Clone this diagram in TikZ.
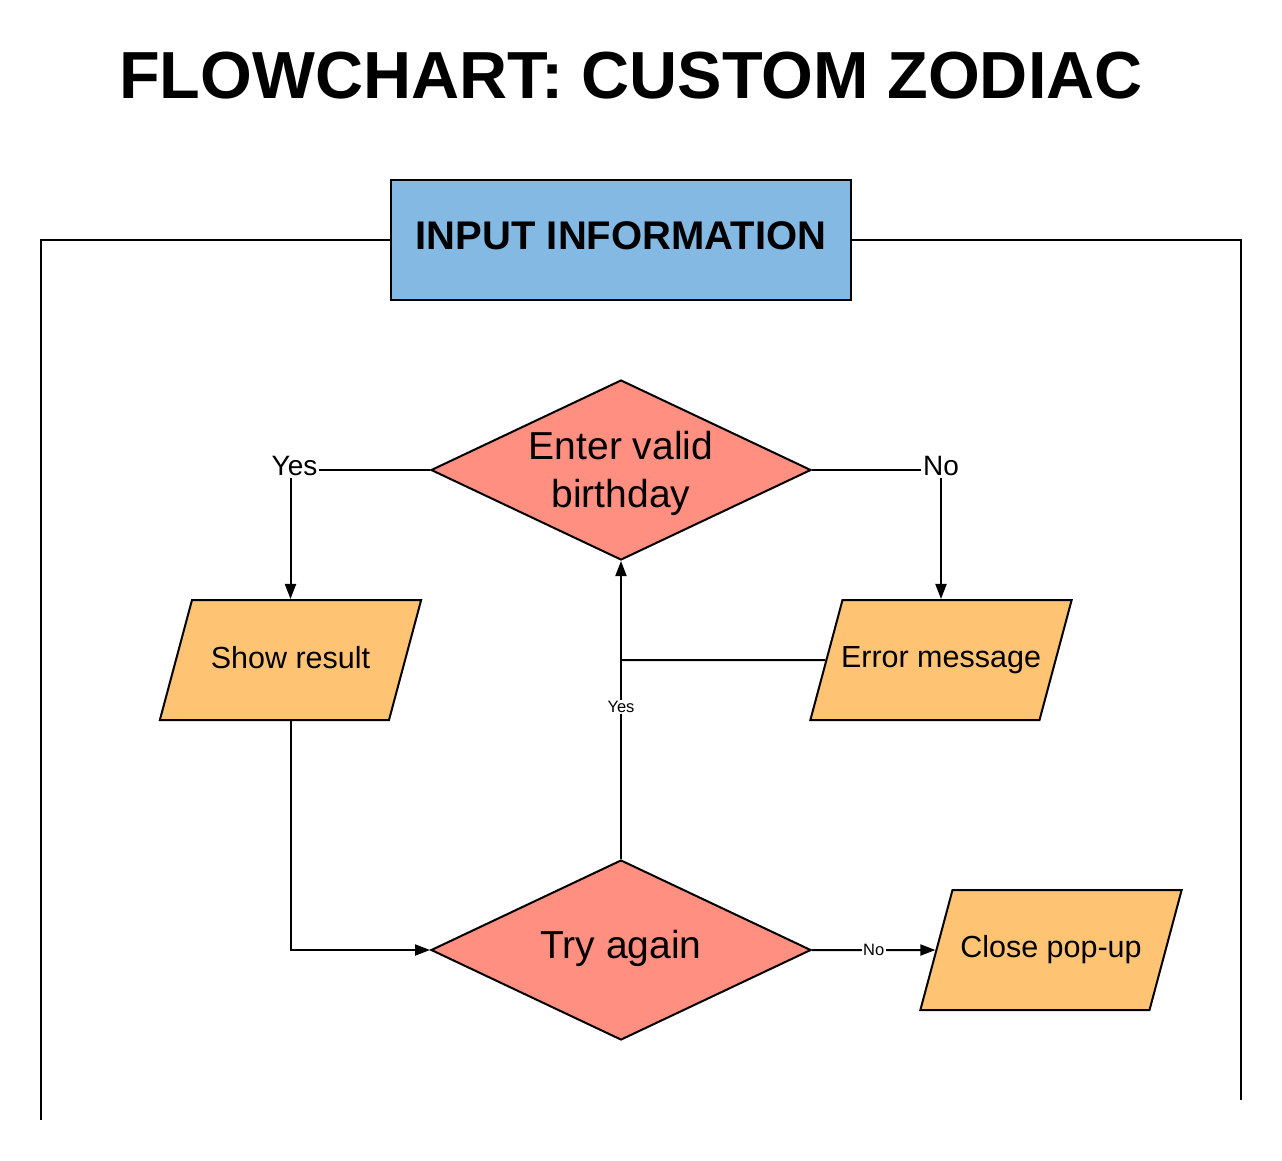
\documentclass[tikz,border=0pt]{standalone}
\usepackage{fontspec}
\setmainfont{Liberation Sans}
\usetikzlibrary{shapes.geometric,arrows.meta}
\definecolor{inblue}{RGB}{131,185,227}
\definecolor{salmon}{RGB}{255,143,128}
\definecolor{paraor}{RGB}{255,195,116}
\newcommand\paratext[1]{\parbox[c][120pt][c]{197pt}{\centering\makebox[0pt]{\raisebox{6pt}{#1}}}}
\begin{document}
\begin{tikzpicture}[x=1pt,y=-1pt,
 box/.style={draw, line width=2pt, fill=inblue, minimum width=460pt, minimum height=120pt, inner sep=0pt, font=\fontsize{40}{48}\selectfont\bfseries},
 dia/.style={shape=diamond, draw, line width=2pt, fill=salmon, minimum width=380pt, minimum height=180pt, inner sep=0pt, shape aspect=2.11, align=center, font=\fontsize{39}{48}\selectfont},
 diatext/.style={inner sep=0pt, align=center, font=\fontsize{39}{48}\selectfont},
 para/.style={shape=trapezium, trapezium left angle=75, trapezium right angle=105, draw, line width=2pt, fill=paraor, inner sep=0pt, minimum width=1pt, minimum height=1pt, font=\fontsize{30.5}{36}\selectfont},
 conn/.style={line width=2pt},
 arr/.style={conn, -{Triangle[length=15pt,width=11pt]}},
 biglbl/.style={fill=white, inner sep=2pt, font=\fontsize{28}{32}\selectfont},
 smalllbl/.style={fill=white, inner sep=1.5pt, font=\fontsize{16.5}{19}\selectfont},
]
\useasboundingbox (0,0) rectangle (1282,1160);
\node[font=\fontsize{66.6}{78}\selectfont\bfseries] (title) at (631,76) {FLOWCHART: CUSTOM ZODIAC};
\node[box] (inp) at (621,240) {\raisebox{8pt}{INPUT INFORMATION}};
\node[dia] (d1) at (621,470) {};
\node[diatext] (d1t) at (621,473) {Enter valid\\birthday};
\node[dia] (d2) at (621,950) {\raisebox{12pt}{Try again}};
\node[para] (sr) at (290.5,660) {\paratext{Show result}};
\node[para] (err) at (941,660) {\paratext{Error message}};
\node[para] (cp) at (1051,950) {\paratext{Close pop-up}};
\coordinate (L1) at (41,1120);
\coordinate (R1) at (1241,1100);
\draw[conn] (inp.west) -| (L1);
\draw[conn] (inp.east) -| (R1);
\draw[arr] (d1.west) -| node[biglbl,pos=0.5,xshift=4pt,yshift=4pt]{Yes} (sr);
\draw[arr] (d1.east) -| node[biglbl,pos=0.5,yshift=4pt]{No} (err);
\draw[arr] (sr) |- (d2.west);
\draw[arr] (d2) -- node[smalllbl,pos=0.51]{Yes} (d1);
\draw[conn] (err) -- (d1 |- err);
\draw[arr] (d2) -- node[smalllbl,pos=0.5]{No} (cp);
\end{tikzpicture}
\end{document}
